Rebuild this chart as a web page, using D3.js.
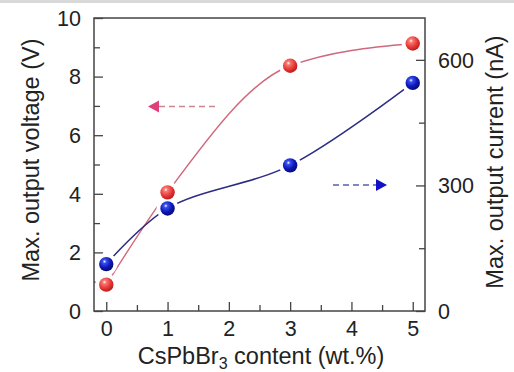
<!DOCTYPE html>
<html>
<head>
<meta charset="utf-8">
<script src="https://cdn.jsdelivr.net/npm/d3@7/dist/d3.min.js"></script>
<style>
  html, body { margin: 0; padding: 0; background: #fff; }
  svg text { font-family: "Liberation Sans", Arial, sans-serif; fill: #222; }
</style>
</head>
<body>
<svg id="chart" width="514" height="372"></svg>
<script>
// CsPbBr3 loading vs. maximum output voltage / current
const content = [0, 1, 3, 5];                 // wt.%
const voltage = [0.9, 4.05, 8.37, 9.13];     // V (left axis)
const current = [112, 245, 348, 545];        // nA (right axis)
const xTicks = [0, 1, 2, 3, 4, 5];
const yLeftTicks = [0, 2, 4, 6, 8, 10];
const yRightTicks = [0, 300, 600];

const svg = d3.select("#chart");
const W = 514, H = 372;
const m = { left: 94, right: 89, top: 18, bottom: 61 };
const pw = W - m.left - m.right, ph = H - m.top - m.bottom;
const tickFont = 21.5, titleFont = 23.5;

// thin grey strip along the top edge
svg.append("rect").attr("x", 0).attr("y", 0).attr("width", W).attr("height", 3).attr("fill", "#d9d9d9");

const x = d3.scaleLinear().domain([-0.2, 5.2]).range([m.left, m.left + pw]);
const yL = d3.scaleLinear().domain([0, 10]).range([m.top + ph, m.top]);
const yR = d3.scaleLinear().domain([0, 700]).range([m.top + ph, m.top]);

const defs = svg.append("defs");
function sphere(id, light, mid, dark) {
  const g = defs.append("radialGradient").attr("id", id)
    .attr("cx", "0.38").attr("cy", "0.32").attr("r", "0.7");
  g.append("stop").attr("offset", "0").attr("stop-color", "#ffffff");
  g.append("stop").attr("offset", "0.18").attr("stop-color", light);
  g.append("stop").attr("offset", "0.6").attr("stop-color", mid);
  g.append("stop").attr("offset", "1").attr("stop-color", dark);
}
sphere("gRed", "#f77a74", "#e83a36", "#b81a1c");
sphere("gBlue", "#3a50f0", "#0e18b8", "#050a70");

// axes with inward ticks
const axisColor = "#444";
const bottomAxis = d3.axisBottom(x).tickValues(d3.range(0, 5.01, 0.5)).tickSize(-7)
  .tickFormat(d => xTicks.includes(d) ? d : "");
const gx = svg.append("g").attr("transform", `translate(0,${m.top + ph})`).call(bottomAxis);
gx.selectAll(".tick line").attr("y2", d => Number.isInteger(d) ? -9 : -6);

const leftAxis = d3.axisLeft(yL).tickValues(d3.range(0, 10.01, 1)).tickSize(-9)
  .tickFormat(d => yLeftTicks.includes(d) ? d : "");
const gl = svg.append("g").attr("transform", `translate(${m.left},0)`).call(leftAxis);
gl.selectAll(".tick line").attr("x2", d => d % 2 === 0 ? 9 : 6);

const rightAxis = d3.axisRight(yR).tickValues([0, 150, 300, 450, 600]).tickSize(-9)
  .tickFormat(d => yRightTicks.includes(d) ? d : "");
const gr = svg.append("g").attr("transform", `translate(${m.left + pw},0)`).call(rightAxis);
gr.selectAll(".tick line").attr("x2", d => yRightTicks.includes(d) ? -9 : -6);

[gx, gl, gr].forEach(g => {
  g.select(".domain").remove();
  g.selectAll(".tick line").attr("stroke", axisColor).attr("stroke-width", 1.3);
  g.selectAll(".tick text").attr("font-size", tickFont).style("fill", "#222")
    .attr("font-family", "Liberation Sans, Arial, sans-serif");
});
gx.selectAll(".tick text").attr("y", 10).attr("dy", "0.71em");
gl.selectAll(".tick text").attr("x", -13).attr("dy", "0.34em");
gr.selectAll(".tick text").attr("x", 13).attr("dy", "0.34em");

// frame
svg.append("rect").attr("x", m.left).attr("y", m.top).attr("width", pw).attr("height", ph)
  .attr("fill", "none").attr("stroke", axisColor).attr("stroke-width", 1.5);

// axis titles
svg.append("text").attr("transform", `translate(39,160) rotate(-90)`)
  .attr("text-anchor", "middle").attr("font-size", titleFont).text("Max. output voltage (V)");
svg.append("text").attr("transform", `translate(503,162) rotate(-90)`)
  .attr("text-anchor", "middle").attr("font-size", titleFont).text("Max. output current (nA)");
const xt = svg.append("text").attr("x", 261).attr("y", 364)
  .attr("text-anchor", "middle").attr("font-size", titleFont);
xt.append("tspan").text("CsPbBr");
xt.append("tspan").attr("font-size", 16).attr("dy", 5).text("3");
xt.append("tspan").attr("dy", -5).text(" content (wt.%)");

// smooth connecting curves
const redLine = d3.line().x((d, i) => x(content[i])).y(d => yL(d)).curve(d3.curveMonotoneX);
const blueLine = d3.line().x((d, i) => x(content[i])).y(d => yR(d)).curve(d3.curveCatmullRom.alpha(0.5));
svg.append("path").attr("d", redLine(voltage)).attr("fill", "none")
  .attr("stroke", "#d0687e").attr("stroke-width", 1.4);
svg.append("path").attr("d", blueLine(current)).attr("fill", "none")
  .attr("stroke", "#2c2c82").attr("stroke-width", 1.5);

// white halo so the curves stop short of each marker
function halos(vals, yScale) {
  svg.append("g").selectAll("circle").data(vals).join("circle")
    .attr("cx", (d, i) => x(content[i])).attr("cy", d => yScale(d)).attr("r", 11).attr("fill", "#fff");
}
halos(voltage, yL);
halos(current, yR);
function balls(vals, yScale, grad) {
  svg.append("g").selectAll("circle").data(vals).join("circle")
    .attr("cx", (d, i) => x(content[i])).attr("cy", d => yScale(d)).attr("r", 7.2)
    .attr("fill", `url(#${grad})`);
}
balls(voltage, yL, "gRed");
balls(current, yR, "gBlue");

// direction arrows pointing to each series' axis
function arrow(x1, x2, yy, dashColor, headColor, dir) {
  const tip = x2, base = x2 - dir * 11;
  svg.append("line").attr("x1", x1).attr("x2", base).attr("y1", yy).attr("y2", yy)
    .attr("stroke", dashColor).attr("stroke-width", 1.6).attr("stroke-dasharray", "6,4");
  svg.append("path").attr("d", `M${tip},${yy} L${base},${yy - 6} L${base},${yy + 6} Z`).attr("fill", headColor);
}
arrow(215, 148, 106.5, "#c9888f", "#e0407a", -1);
arrow(333, 387, 185, "#5860a8", "#1010c8", 1);
</script>
</body>
</html>
